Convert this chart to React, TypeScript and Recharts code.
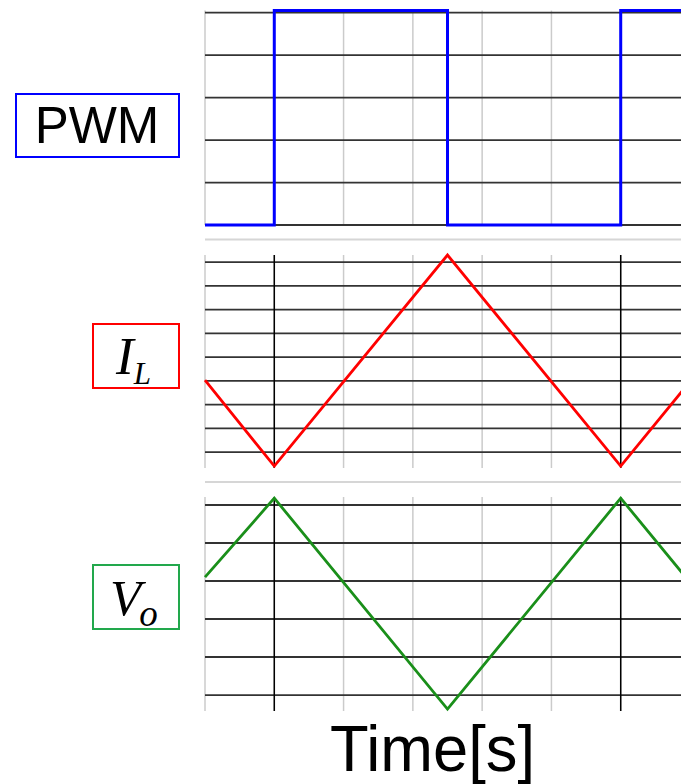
import React from "react";
import { LineChart, Line, XAxis, YAxis, CartesianGrid } from "recharts";

// Time axis: one grid division per unit, switching period of 5 divisions
const timeTicks = [0, 1, 2, 3, 4, 5, 6, 7];
const switchTimes = [1, 6];

// PWM gate signal
const pwmTime = [0, 1, 1, 3.5, 3.5, 6, 6, 7];
const pwmLevel = [0, 0, 5.05, 5.05, 0, 0, 5.05, 5.05];
const pwmGridLevels = [0, 1, 2, 3, 4, 5];

// Inductor current
const ilTime = [0, 1, 3.5, 6, 7];
const ilValue = [3.03, -0.59, 8.3, -0.59, 2.97];
const ilGridLevels = [0, 1, 2, 3, 4, 5, 6, 7, 8];

// Output voltage ripple
const voTime = [0, 1, 3.5, 6, 7];
const voValue = [3.1, 5.18, -0.37, 5.18, 2.96];
const voGridLevels = [0, 1, 2, 3, 4, 5];

const toRows = (ts: number[], vs: number[]) => ts.map((t, i) => ({ t, v: vs[i] }));

type PanelProps = {
  top: number;
  height: number;
  marginTop: number;
  marginBottom: number;
  rows: { t: number; v: number }[];
  domain: [number, number];
  levels: number[];
  color: string;
  lineWidth: number;
  markSwitching: boolean;
};

function Panel(p: PanelProps) {
  return (
    <div style={{ position: "absolute", left: 0, top: p.top }}>
      <LineChart
        width={690}
        height={p.height}
        data={p.rows}
        margin={{ top: p.marginTop, right: 0, bottom: p.marginBottom, left: 205 }}
      >
        <XAxis type="number" dataKey="t" domain={[0, 7]} hide />
        <YAxis type="number" domain={p.domain} hide />
        <CartesianGrid horizontal={false} verticalValues={timeTicks} stroke="#cbcbcb" strokeWidth={1.5} />
        <CartesianGrid vertical={false} horizontalValues={p.levels} stroke="#333333" strokeWidth={1.8} />
        {p.markSwitching && (
          <CartesianGrid horizontal={false} verticalValues={switchTimes} stroke="#000000" strokeWidth={1.5} />
        )}
        <Line
          type="linear"
          dataKey="v"
          stroke={p.color}
          strokeWidth={p.lineWidth}
          dot={false}
          activeDot={false}
          isAnimationActive={false}
        />
      </LineChart>
    </div>
  );
}

export default function App() {
  return (
    <div
      style={{
        position: "absolute",
        left: 0,
        top: 0,
        width: 681,
        height: 784,
        overflow: "hidden",
        background: "#ffffff",
      }}
    >
      <svg width={681} height={784} style={{ position: "absolute", left: 0, top: 0 }}>
        {/* panel separators */}
        <line x1={205} x2={681} y1={239.5} y2={239.5} stroke="#d6d6d6" strokeWidth={2} />
        <line x1={205} x2={681} y1={482} y2={482} stroke="#d6d6d6" strokeWidth={2} />

        {/* signal name boxes */}
        <rect x={16} y={94} width={163} height={63} fill="none" stroke="#0000ff" strokeWidth={2} />
        <text x={97} y={143} textAnchor="middle" fontFamily="Liberation Sans, Arial, sans-serif" fontSize={51} fill="#000">
          PWM
        </text>

        <rect x={93} y={324} width={86} height={64} fill="none" stroke="#ff0000" strokeWidth={2} />
        <text x={116} y={374} fontFamily="Liberation Serif, Times New Roman, serif" fontStyle="italic" fontSize={53} fill="#000">
          I
          <tspan dy={10} fontSize={31}>L</tspan>
        </text>

        <rect x={93} y={565} width={86} height={64} fill="none" stroke="#22a84c" strokeWidth={2} />
        <text x={110} y={615} fontFamily="Liberation Serif, Times New Roman, serif" fontStyle="italic" fontSize={51} fill="#000">
          V
          <tspan dx={-2} dy={11} fontSize={37}>o</tspan>
        </text>

        <text
          x={330}
          y={771}
          fontFamily="Liberation Sans, Arial, sans-serif"
          fontSize={65}
          textLength={205}
          lengthAdjust="spacingAndGlyphs"
          fill="#000"
        >
          Time[s]
        </text>
      </svg>

      <Panel
        top={0}
        height={240}
        marginTop={10.6}
        marginBottom={15}
        rows={toRows(pwmTime, pwmLevel)}
        domain={[0, 5.05]}
        levels={pwmGridLevels}
        color="#0000ff"
        lineWidth={3}
        markSwitching={false}
      />
      <Panel
        top={240}
        height={242}
        marginTop={15}
        marginBottom={14}
        rows={toRows(ilTime, ilValue)}
        domain={[-0.67, 8.3]}
        levels={ilGridLevels}
        color="#ff0000"
        lineWidth={2.8}
        markSwitching={true}
      />
      <Panel
        top={482}
        height={240}
        marginTop={15}
        marginBottom={11}
        rows={toRows(voTime, voValue)}
        domain={[-0.42, 5.21]}
        levels={voGridLevels}
        color="#1a8f1a"
        lineWidth={2.8}
        markSwitching={true}
      />
    </div>
  );
}
